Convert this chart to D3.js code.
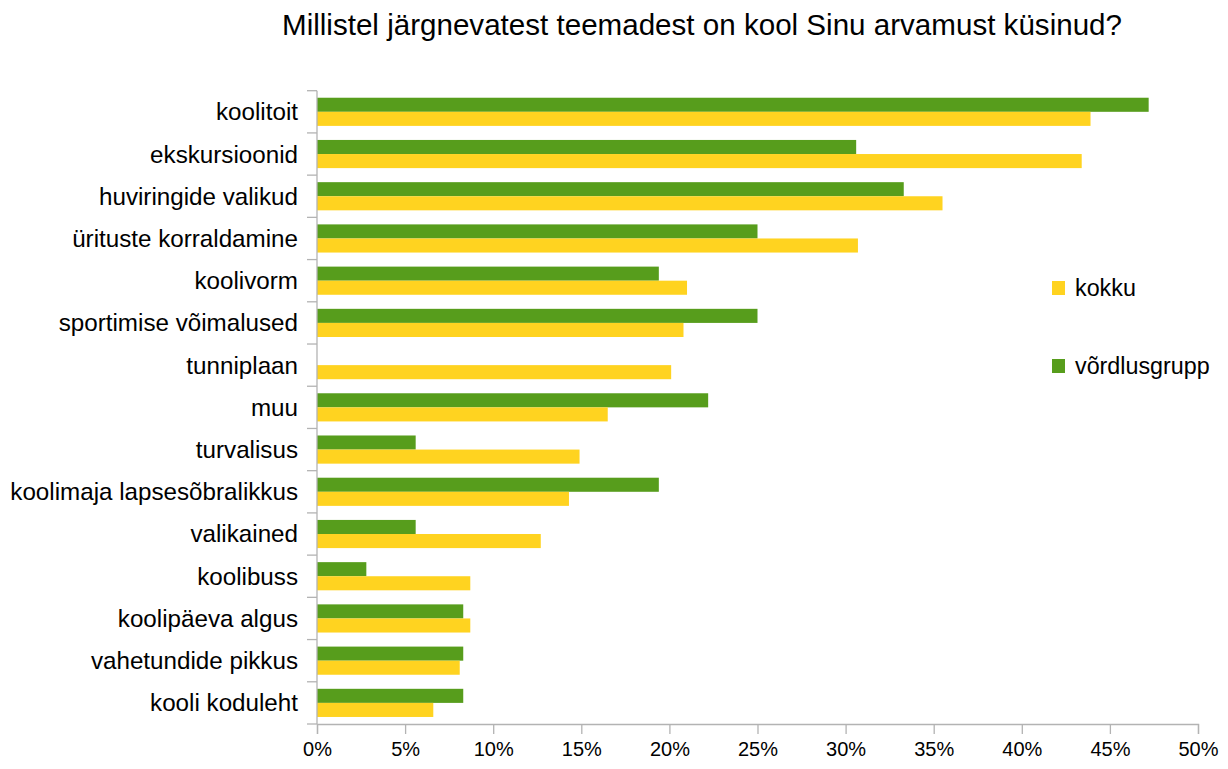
<!DOCTYPE html>
<html>
<head>
<meta charset="utf-8">
<script src="https://cdn.jsdelivr.net/npm/d3@7"></script>
<style>
  html, body { margin: 0; padding: 0; background: #fff; }
  svg { display: block; font-family: "Liberation Sans", Arial, sans-serif; }
</style>
</head>
<body>
<svg id="chart" width="1228" height="769"></svg>
<script>
const title = "Millistel järgnevatest teemadest on kool Sinu arvamust küsinud?";
const categories = [
  "koolitoit", "ekskursioonid", "huviringide valikud", "ürituste korraldamine",
  "koolivorm", "sportimise võimalused", "tunniplaan", "muu ", "turvalisus ",
  "koolimaja lapsesõbralikkus", "valikained", "koolibuss", "koolipäeva algus",
  "vahetundide pikkus", "kooli koduleht"
];
const seriesNames = ["kokku", "võrdlusgrupp"];
const kokku = [43.9, 43.4, 35.5, 30.7, 21.0, 20.8, 20.1, 16.5, 14.9, 14.3, 12.7, 8.7, 8.7, 8.1, 6.6];
const vordlusgrupp = [47.2, 30.6, 33.3, 25.0, 19.4, 25.0, 0, 22.2, 5.6, 19.4, 5.6, 2.8, 8.3, 8.3, 8.3];
const xTicks = [0, 5, 10, 15, 20, 25, 30, 35, 40, 45, 50];
const colors = { "kokku": "#ffd320", "võrdlusgrupp": "#579d1c" };

(function () {
const svg = d3.select("#chart");
const pLeft = 317, pRight = 1198, pTop = 90.7, pBottom = 724;

const x = d3.scaleLinear().domain([0, 50]).range([pLeft, pRight]);
const y = d3.scaleBand().domain(categories).range([pTop, pBottom]).paddingInner(0.333).paddingOuter(0.1665);
const sub = d3.scaleBand().domain(["võrdlusgrupp", "kokku"]).range([0, y.bandwidth()]);

// title
svg.append("text")
  .attr("x", 702).attr("y", 35)
  .attr("text-anchor", "middle")
  .attr("font-size", 30)
  .attr("textLength", 840)
  .attr("lengthAdjust", "spacingAndGlyphs")
  .attr("fill", "#000")
  .text(title);

// bars
const rows = categories.map((c, i) => ({ c, kokku: kokku[i], "võrdlusgrupp": vordlusgrupp[i] }));
const g = svg.append("g");
rows.forEach(r => {
  ["võrdlusgrupp", "kokku"].forEach(s => {
    if (r[s] > 0) {
      g.append("rect")
        .attr("x", x(0))
        .attr("y", y(r.c) + sub(s))
        .attr("width", x(r[s]) - x(0))
        .attr("height", sub.bandwidth())
        .attr("fill", colors[s]);
    }
  });
});

// x axis
const xAxis = d3.axisBottom(x).tickValues(xTicks).tickSize(10).tickPadding(8).tickFormat(d => d + "%");
const gx = svg.append("g").attr("transform", `translate(0,${pBottom})`).call(xAxis);
gx.select(".domain").attr("stroke", "#b3b3b3").attr("stroke-width", 1.3);
gx.selectAll(".tick line").attr("stroke", "#b3b3b3").attr("stroke-width", 1.3);
gx.selectAll(".tick text").attr("font-size", 20).attr("fill", "#000").attr("font-family", "Liberation Sans, Arial, sans-serif");

// y axis: boundary ticks between categories
const step = (pBottom - pTop) / categories.length;
const gy = svg.append("g");
gy.append("line").attr("x1", pLeft).attr("x2", pLeft).attr("y1", pTop).attr("y2", pBottom)
  .attr("stroke", "#b3b3b3").attr("stroke-width", 1.3);
d3.range(categories.length + 1).forEach(i => {
  gy.append("line").attr("x1", pLeft - 10).attr("x2", pLeft)
    .attr("y1", pTop + i * step).attr("y2", pTop + i * step)
    .attr("stroke", "#b3b3b3").attr("stroke-width", 1.3);
});
categories.forEach(c => {
  gy.append("text")
    .attr("x", 298)
    .attr("y", y(c) + y.bandwidth() / 2)
    .attr("dy", "0.35em")
    .attr("text-anchor", "end")
    .attr("font-size", 24.2)
    .attr("fill", "#000")
    .text(c);
});

// legend
const legendY = { "kokku": 288, "võrdlusgrupp": 366 };
seriesNames.forEach(s => {
  svg.append("rect").attr("x", 1052).attr("y", legendY[s] - 7).attr("width", 13).attr("height", 14)
    .attr("fill", colors[s]);
  svg.append("text").attr("x", 1075).attr("y", legendY[s]).attr("dy", "0.35em")
    .attr("font-size", 23.3).attr("fill", "#000").text(s);
});
})();
</script>
</body>
</html>
